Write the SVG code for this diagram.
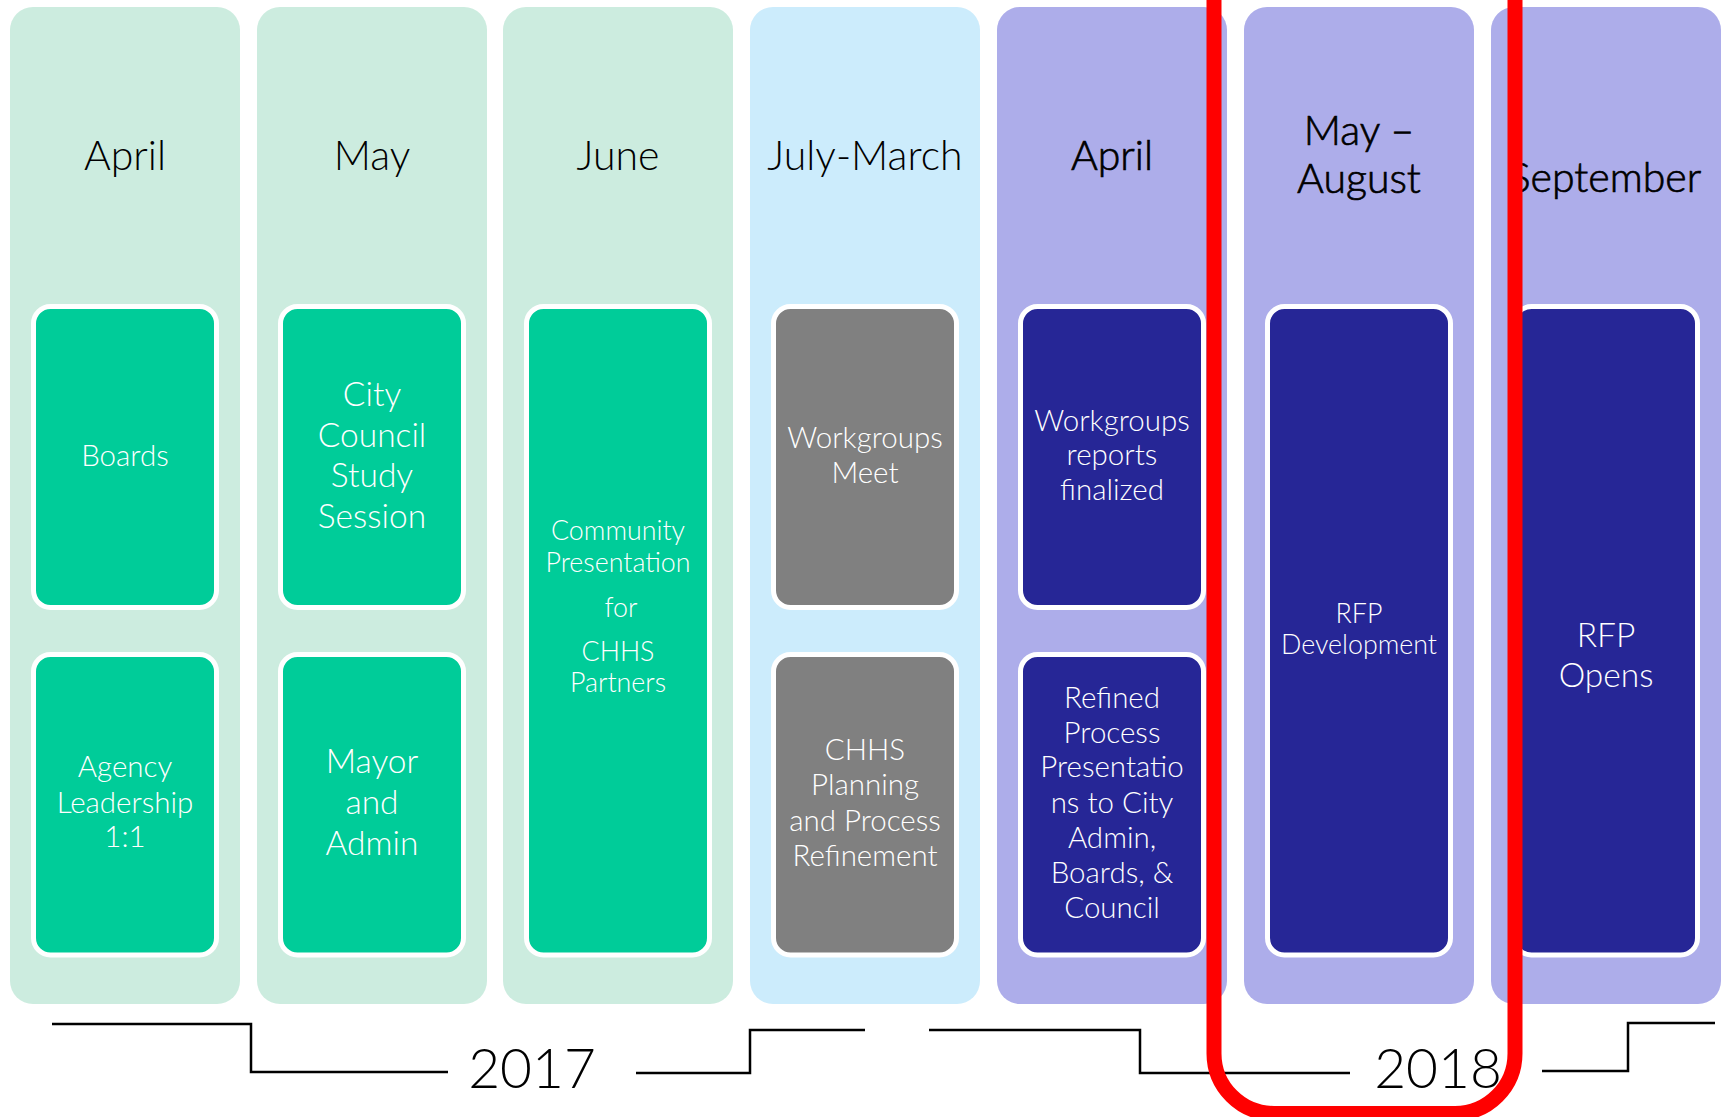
<svg xmlns="http://www.w3.org/2000/svg" width="1723" height="1117" viewBox="0 0 1723 1117">
<style>
  .col-g { fill: #CCECDF; }
  .col-b { fill: #CCECFC; }
  .col-p { fill: #ADADEA; }
  .box { stroke: #FFFFFF; stroke-width: 5; }
  .bx-g { fill: #00CC99; }
  .bx-x { fill: #808080; }
  .bx-n { fill: #262696; }
  .hdr { font-family: Lato, "Open Sans", "Liberation Sans", sans-serif; font-size: 41px; fill: #000000; text-anchor: middle; font-weight: 300; }
  .hdr2 { stroke: #000000; stroke-width: 0.7; }
  .t { font-family: Lato, "Open Sans", "Liberation Sans", sans-serif; fill: #FFFFFF; text-anchor: middle; font-weight: 300; }
  .s29 { font-size: 29.5px; }
  .s33 { font-size: 33.5px; }
  .s26 { font-size: 26.8px; }
  .yr { font-family: Lato, "Open Sans", "Liberation Sans", sans-serif; font-size: 55px; fill: #000000; text-anchor: middle; font-weight: 300; }
  .ln { fill: none; stroke: #000000; stroke-width: 2.5; }
</style>

<g id="col-april-2017">
  <rect class="col-g" x="10" y="7" width="230" height="997" rx="23"/>
  <text class="hdr" x="125" y="170">April</text>
</g>
<g id="col-may-2017">
  <rect class="col-g" x="257" y="7" width="230" height="997" rx="23"/>
  <text class="hdr" x="372" y="170">May</text>
</g>
<g id="col-june-2017">
  <rect class="col-g" x="503" y="7" width="230" height="997" rx="23"/>
  <text class="hdr" x="618" y="170">June</text>
</g>
<g id="col-july-march">
  <rect class="col-b" x="750" y="7" width="230" height="997" rx="23"/>
  <text class="hdr" x="865" y="170">July-March</text>
</g>
<g id="col-april-2018">
  <rect class="col-p" x="997" y="7" width="230" height="997" rx="23"/>
  <text class="hdr hdr2" x="1112" y="170">April</text>
</g>
<g id="col-may-august">
  <rect class="col-p" x="1244" y="7" width="230" height="997" rx="23"/>
  <text class="hdr hdr2" x="1359" y="145">May –</text>
  <text class="hdr hdr2" x="1359" y="193">August</text>
</g>
<g id="col-september">
  <rect class="col-p" x="1491" y="7" width="230" height="997" rx="23"/>
  <text class="hdr hdr2" x="1605" y="192">September</text>
</g>

<g id="box-boards">
  <rect class="box bx-g" x="33.5" y="306.5" width="183" height="301" rx="17"/>
  <text class="t s29" x="125" y="466">Boards</text>
</g>
<g id="box-agency">
  <rect class="box bx-g" x="33.5" y="654.5" width="183" height="300.5" rx="17"/>
  <text class="t s29" x="125" y="777">Agency</text>
  <text class="t s29" x="125" y="813">Leadership</text>
  <text class="t s29" x="125" y="847">1:1</text>
</g>
<g id="box-council">
  <rect class="box bx-g" x="280.5" y="306.5" width="183" height="301" rx="17"/>
  <text class="t s33" x="372" y="406">City</text>
  <text class="t s33" x="372" y="447">Council</text>
  <text class="t s33" x="372" y="487">Study</text>
  <text class="t s33" x="372" y="528">Session</text>
</g>
<g id="box-mayor">
  <rect class="box bx-g" x="280.5" y="654.5" width="183" height="300.5" rx="17"/>
  <text class="t s33" x="372" y="773">Mayor</text>
  <text class="t s33" x="372" y="814">and</text>
  <text class="t s33" x="372" y="855">Admin</text>
</g>
<g id="box-community">
  <rect class="box bx-g" x="526.5" y="306.5" width="183" height="648.5" rx="17"/>
  <text class="t s26" x="618" y="540">Community</text>
  <text class="t s26" x="618" y="572">Presentation</text>
  <text class="t s26" x="621" y="617">for</text>
  <text class="t s26" x="618" y="661">CHHS</text>
  <text class="t s26" x="618" y="692">Partners</text>
</g>
<g id="box-workgroups-meet">
  <rect class="box bx-x" x="773.5" y="306.5" width="183" height="301" rx="17"/>
  <text class="t s29" x="865" y="448">Workgroups</text>
  <text class="t s29" x="865" y="483">Meet</text>
</g>
<g id="box-chhs-planning">
  <rect class="box bx-x" x="773.5" y="654.5" width="183" height="300.5" rx="17"/>
  <text class="t s29" x="865" y="760">CHHS</text>
  <text class="t s29" x="865" y="795">Planning</text>
  <text class="t s29" x="865" y="831">and Process</text>
  <text class="t s29" x="865" y="866">Refinement</text>
</g>
<g id="box-reports">
  <rect class="box bx-n" x="1020.5" y="306.5" width="183" height="301" rx="17"/>
  <text class="t s29" x="1112" y="431">Workgroups</text>
  <text class="t s29" x="1112" y="465">reports</text>
  <text class="t s29" x="1112" y="500">finalized</text>
</g>
<g id="box-refined">
  <rect class="box bx-n" x="1020.5" y="654.5" width="183" height="300.5" rx="17"/>
  <text class="t s29" x="1112" y="708">Refined</text>
  <text class="t s29" x="1112" y="743">Process</text>
  <text class="t s29" x="1112" y="777">Presentatio</text>
  <text class="t s29" x="1112" y="813">ns to City</text>
  <text class="t s29" x="1112" y="848">Admin,</text>
  <text class="t s29" x="1112" y="883">Boards, &amp;</text>
  <text class="t s29" x="1112" y="918">Council</text>
</g>
<g id="box-rfp-dev">
  <rect class="box bx-n" x="1267.5" y="306.5" width="183" height="648.5" rx="17"/>
  <text class="t s26" x="1359" y="623">RFP</text>
  <text class="t s26" x="1359" y="654">Development</text>
</g>
<g id="box-rfp-opens">
  <rect class="box bx-n" x="1514.5" y="306.5" width="183" height="648.5" rx="17"/>
  <text class="t s33" x="1606" y="647">RFP</text>
  <text class="t s33" x="1606" y="687">Opens</text>
</g>

<g id="connectors">
  <path class="ln" d="M52,1024 H251 V1072 H448"/>
  <path class="ln" d="M636,1073 H750 V1030 H865"/>
  <path class="ln" d="M929,1030 H1140 V1073 H1350"/>
  <path class="ln" d="M1542,1071 H1628 V1023 H1715"/>
</g>

<g id="year-2017">
  <text class="yr" x="532" y="1088">2017</text>
</g>
<g id="year-2018">
  <text class="yr" x="1438" y="1088">2018</text>
</g>

<g id="highlight">
  <rect x="1214" y="-80" width="301" height="1193.5" rx="60" fill="none" stroke="#FF0000" stroke-width="15"/>
</g>
</svg>
